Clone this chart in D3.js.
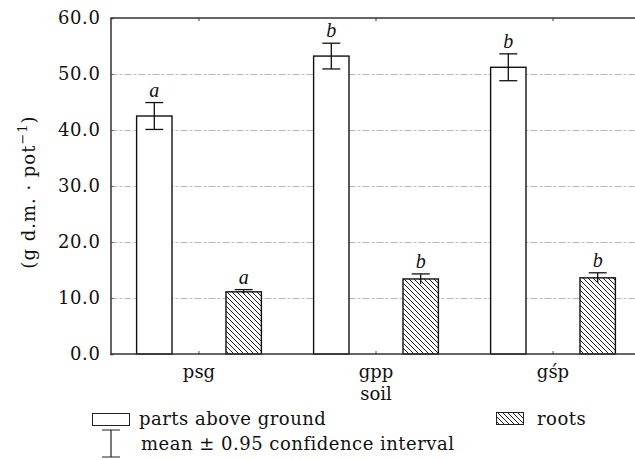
<!DOCTYPE html>
<html>
<head>
<meta charset="utf-8">
<script src="https://cdn.jsdelivr.net/npm/d3@7"></script>
<style>
  body { margin: 0; background: #fff; }
  text { font-family: "DejaVu Serif", serif; fill: #111; }
</style>
</head>
<body>
<div id="chart"></div>
<script>
// data
var soils = ["psg", "gpp", "gśp"];
var series = ["above", "roots"];
var aboveMean = [42.5, 53.2, 51.2];
var aboveCI = [2.4, 2.3, 2.4];
var aboveLetters = ["a", "b", "b"];
var rootsMean = [11.1, 13.4, 13.6];
var rootsCI = [0.4, 0.9, 0.9];
var rootsLetters = ["a", "b", "b"];
var yTicks = [0, 10, 20, 30, 40, 50, 60];

var W = 635, H = 460;
var margin = {top: 18, left: 110.5, bottom: 106};
var plotBottom = H - margin.bottom;
var FS = 18;

var svg = d3.select("#chart").append("svg")
  .attr("width", W).attr("height", H);

var defs = svg.append("defs");
var pat = defs.append("pattern")
  .attr("id", "hatch")
  .attr("patternUnits", "userSpaceOnUse")
  .attr("width", 5).attr("height", 5);
pat.append("rect").attr("width", 5).attr("height", 5).attr("fill", "#fff");
pat.append("path")
  .attr("d", "M-1,-1 L6,6 M-6,-1 L1,6 M4,-1 L11,6")
  .attr("stroke", "#222").attr("stroke-width", 1);

var x = d3.scaleBand().domain(soils).range([margin.left, 641.5]);
var xSub = d3.scalePoint().domain(series).range([-0.2525 * x.bandwidth(), 0.2525 * x.bandwidth()]);
var barW = 0.2 * x.bandwidth();
var y = d3.scaleLinear().domain([0, 60]).range([plotBottom, margin.top]);

// grid
svg.append("g").selectAll("line")
  .data(yTicks.filter(d => d > 0 && d < 60))
  .enter().append("line")
  .attr("x1", margin.left).attr("x2", W)
  .attr("y1", d => y(d) + 0.5).attr("y2", d => y(d) + 0.5)
  .attr("stroke", "#bbb").attr("stroke-width", 1)
  .attr("stroke-dasharray", "7,2,3,2");

// y axis
var yAxis = svg.append("g")
  .attr("transform", "translate(" + margin.left + ",0)")
  .call(d3.axisLeft(y).tickValues(yTicks).tickSize(-3).tickPadding(10)
    .tickFormat(d3.format(".1f")));
yAxis.select(".domain").attr("stroke", "#333").attr("stroke-width", 1.5);
yAxis.selectAll(".tick line").attr("stroke", "#555");
yAxis.selectAll("text").attr("font-size", FS).attr("letter-spacing", 0.6)
  .style("font-family", "DejaVu Serif");

// top border with ticks
svg.append("line")
  .attr("x1", margin.left).attr("x2", W)
  .attr("y1", margin.top).attr("y2", margin.top)
  .attr("stroke", "#333").attr("stroke-width", 1.5);
svg.append("g").selectAll("line").data(soils).enter().append("line")
  .attr("x1", d => x(d) + x.bandwidth() / 2).attr("x2", d => x(d) + x.bandwidth() / 2)
  .attr("y1", margin.top).attr("y2", margin.top + 3)
  .attr("stroke", "#333");

// bars
function drawSeries(key, means, cis, letters, fill) {
  var g = svg.append("g");
  var cx = (d, i) => x(soils[i]) + x.bandwidth() / 2 + xSub(key);
  g.selectAll("rect").data(means).enter().append("rect")
    .attr("x", (d, i) => cx(d, i) - barW / 2)
    .attr("width", barW)
    .attr("y", d => y(d))
    .attr("height", d => plotBottom - y(d))
    .attr("fill", fill)
    .attr("stroke", "#111").attr("stroke-width", 1.4);
  var e = g.selectAll(".err").data(means).enter().append("g").attr("class", "err");
  e.append("line")
    .attr("x1", (d, i) => cx(d, i)).attr("x2", (d, i) => cx(d, i))
    .attr("y1", (d, i) => y(d - cis[i])).attr("y2", (d, i) => y(d + cis[i]))
    .attr("stroke", "#111").attr("stroke-width", 1.3);
  e.append("line")
    .attr("x1", (d, i) => cx(d, i) - 9).attr("x2", (d, i) => cx(d, i) + 9)
    .attr("y1", (d, i) => y(d + cis[i])).attr("y2", (d, i) => y(d + cis[i]))
    .attr("stroke", "#111").attr("stroke-width", 1.3);
  e.append("line")
    .attr("x1", (d, i) => cx(d, i) - 9).attr("x2", (d, i) => cx(d, i) + 9)
    .attr("y1", (d, i) => y(d - cis[i])).attr("y2", (d, i) => y(d - cis[i]))
    .attr("stroke", "#111").attr("stroke-width", 1.3)
    .attr("opacity", key === "roots" ? 0 : 1);
  g.selectAll(".lbl").data(means).enter().append("text")
    .attr("x", (d, i) => cx(d, i))
    .attr("y", (d, i) => y(d + cis[i]) - 6)
    .attr("text-anchor", "middle")
    .attr("font-size", 20).attr("font-style", "italic")
    .style("font-family", "Liberation Serif")
    .text((d, i) => letters[i]);
}
drawSeries("above", aboveMean, aboveCI, aboveLetters, "#fff");
drawSeries("roots", rootsMean, rootsCI, rootsLetters, "url(#hatch)");

// x axis
var xAxis = svg.append("g")
  .attr("transform", "translate(0," + plotBottom + ")")
  .call(d3.axisBottom(x).tickSize(-3).tickPadding(11));
xAxis.select(".domain").remove();
xAxis.selectAll(".tick line").attr("stroke", "#555");
xAxis.selectAll("text").attr("font-size", FS)
  .style("font-family", "DejaVu Serif");
svg.append("line")
  .attr("x1", margin.left).attr("x2", W)
  .attr("y1", plotBottom).attr("y2", plotBottom)
  .attr("stroke", "#333").attr("stroke-width", 1.5);

svg.append("text")
  .attr("x", x("gpp") + x.bandwidth() / 2).attr("y", 400)
  .attr("text-anchor", "middle").attr("font-size", FS)
  .text("soil");

// y title
svg.append("text")
  .attr("transform", "translate(35,192) rotate(-90)")
  .attr("text-anchor", "middle").attr("font-size", FS).attr("letter-spacing", 1)
  .html("(g d.m. · pot<tspan dy='-8' font-size='13'>−1</tspan><tspan dy='8'>)</tspan>");

// legend
var leg = svg.append("g");
leg.append("rect").attr("x", 92.5).attr("y", 413.5).attr("width", 37).attr("height", 12)
  .attr("fill", "#fff").attr("stroke", "#222");
leg.append("text").attr("x", 139).attr("y", 425).attr("font-size", FS).attr("letter-spacing", 0.5)
  .text("parts above ground");
leg.append("path").attr("d", "M102,430 H120 M111,430 V457 M102,457 H120")
  .attr("stroke", "#222").attr("stroke-width", 1.2).attr("fill", "none");
leg.append("text").attr("x", 141).attr("y", 450).attr("font-size", FS).attr("letter-spacing", 0.5)
  .text("mean ± 0.95 confidence interval");
leg.append("rect").attr("x", 496.5).attr("y", 412.5).attr("width", 27).attr("height", 12)
  .attr("fill", "url(#hatch)").attr("stroke", "#222");
leg.append("text").attr("x", 537).attr("y", 425).attr("font-size", FS).attr("letter-spacing", 0.5)
  .text("roots");
</script>
</body>
</html>
